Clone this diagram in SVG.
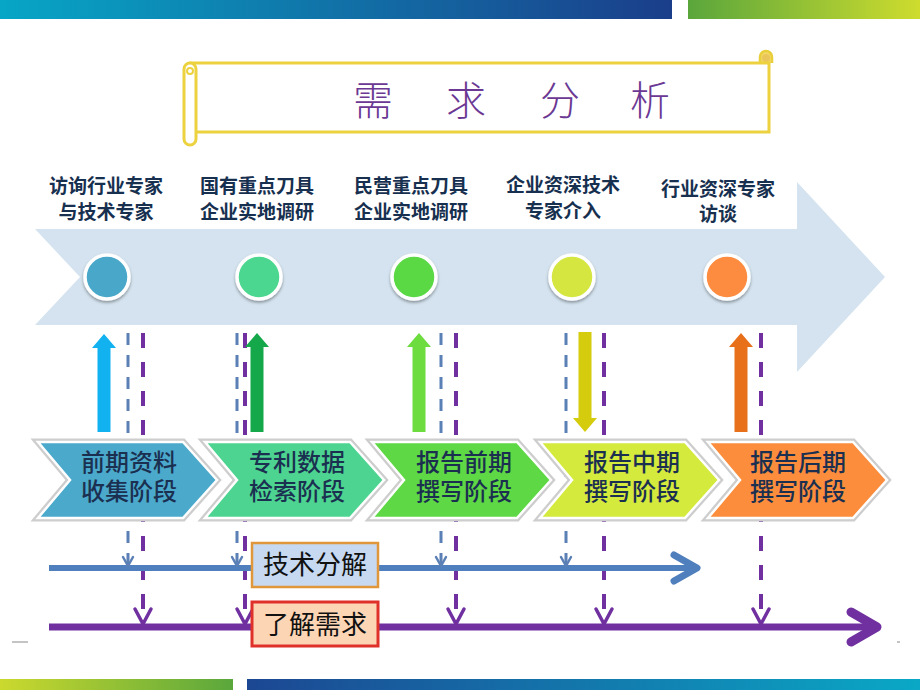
<svg xmlns="http://www.w3.org/2000/svg" width="920" height="690" viewBox="0 0 920 690">
<defs>
<linearGradient id="gBlueTop" x1="0" x2="1" y1="0" y2="0"><stop offset="0" stop-color="#07a6c6"/><stop offset="1" stop-color="#1b3e8a"/></linearGradient>
<linearGradient id="gGreenTop" x1="0" x2="1" y1="0" y2="0"><stop offset="0" stop-color="#5aa63c"/><stop offset="1" stop-color="#cedc2e"/></linearGradient>
<linearGradient id="gGreenBot" x1="0" x2="1" y1="0" y2="0"><stop offset="0" stop-color="#cbd92e"/><stop offset="1" stop-color="#5aa73c"/></linearGradient>
<linearGradient id="gBlueBot" x1="0" x2="1" y1="0" y2="0"><stop offset="0" stop-color="#1c4792"/><stop offset="1" stop-color="#0aa8c6"/></linearGradient>
<filter id="sh" x="-30%" y="-30%" width="160%" height="170%"><feDropShadow dx="0" dy="2" stdDeviation="1.5" flood-color="#000" flood-opacity="0.35"/></filter>
<style>
.lbl{font-family:"Noto Sans CJK SC","Noto Sans CJK TC",sans-serif;font-size:19px;font-weight:bold;fill:#17304f;text-anchor:middle}
.chv{font-family:"Noto Sans CJK SC","Noto Sans CJK TC",sans-serif;font-size:24px;font-weight:500;fill:#1b3050;text-anchor:middle}
.box{font-family:"Noto Sans CJK SC","Noto Sans CJK TC",sans-serif;font-size:26px;fill:#111;text-anchor:middle}
.ring{stroke:#fff;stroke-width:3.5;filter:url(#sh)}
.chevOut{fill:none;stroke:#cdcdcd;stroke-width:7;stroke-linejoin:miter}
.chevIn{stroke:#fff;stroke-width:2.5;stroke-linejoin:miter}
.dB{stroke:#5b80b6;stroke-width:3;stroke-dasharray:12 10;fill:none}
.dP{stroke:#7030a0;stroke-width:4;stroke-dasharray:15 14;fill:none}
.hB{stroke:#4f7fbd;stroke-width:6;fill:none}
.hP{stroke:#7030a0;stroke-width:7;fill:none}
.vB{stroke:#5b80b6;stroke-width:2.5;fill:none;stroke-linecap:round;stroke-linejoin:round}
.vP{stroke:#7030a0;stroke-width:3.5;fill:none;stroke-linecap:round;stroke-linejoin:round}
</style>
</defs>
<rect width="920" height="690" fill="#ffffff"/>
<!-- frame bars -->
<rect x="0" y="0" width="672" height="19" fill="url(#gBlueTop)"/>
<rect x="688" y="0" width="232" height="19" fill="url(#gGreenTop)"/>
<rect x="0" y="679" width="233" height="11" fill="url(#gGreenBot)"/>
<rect x="247" y="679" width="673" height="11" fill="url(#gBlueBot)"/>
<line x1="12" y1="642" x2="28" y2="642" stroke="#b0b0b0" stroke-width="1.5"/>
<line x1="897" y1="642" x2="900" y2="642" stroke="#b0b0b0" stroke-width="1.5"/>

<!-- title scroll -->
<g id="title">
<path d="M760,63 L760,57 A6,6 0 0 1 772,57 L772,63" fill="#f4d86a" stroke="#e8cf3a" stroke-width="2.5"/>
<circle cx="766" cy="58" r="4" fill="#e9c55a"/>
<rect x="191" y="63" width="578" height="69" fill="#ffffff" stroke="#ecd23e" stroke-width="3"/>
<path d="M184,69 A6,6 0 0 1 196,69 L196,139 A6,6 0 0 1 184,139 Z" fill="#ffffff" stroke="#ecd23e" stroke-width="3"/>
<circle cx="190" cy="71" r="3" fill="none" stroke="#ecd23e" stroke-width="2"/>
<text x="373 466 560 650" y="115" style="font-family:'Noto Sans CJK SC','Noto Sans CJK TC',sans-serif;font-size:40px;font-weight:300;fill:#6b3894;text-anchor:middle">需求分析</text>
</g>

<!-- big timeline arrow -->
<g id="timeline">
<polygon points="35,229 797,229 797,182 885,277 797,372 797,325 35,325 80,277" fill="#d4e3ef"/>
</g>

<!-- top labels and circles -->
<g id="event1">
<text class="lbl" x="106" y="193">访询行业专家</text>
<text class="lbl" x="106" y="219">与技术专家</text>
<circle class="ring" cx="107" cy="277" r="22" fill="#4aa8c9"/>
</g>
<g id="event2">
<text class="lbl" x="257" y="193">国有重点刀具</text>
<text class="lbl" x="257" y="219">企业实地调研</text>
<circle class="ring" cx="259" cy="277" r="22" fill="#4bd78f"/>
</g>
<g id="event3">
<text class="lbl" x="411" y="193">民营重点刀具</text>
<text class="lbl" x="411" y="219">企业实地调研</text>
<circle class="ring" cx="414" cy="277" r="22" fill="#5ad945"/>
</g>
<g id="event4">
<text class="lbl" x="563" y="192">企业资深技术</text>
<text class="lbl" x="563" y="218">专家介入</text>
<circle class="ring" cx="572" cy="277" r="22" fill="#d5e641"/>
</g>
<g id="event5">
<text class="lbl" x="718" y="196">行业资深专家</text>
<text class="lbl" x="718" y="221">访谈</text>
<circle class="ring" cx="727" cy="277" r="22" fill="#fd8c40"/>
</g>

<!-- connectors -->
<g id="connectors">
<line class="dB" x1="128" y1="333" x2="128" y2="565"/>
<line class="dB" x1="237" y1="333" x2="237" y2="565"/>
<line class="dB" x1="441" y1="333" x2="441" y2="565"/>
<line class="dB" x1="566" y1="333" x2="566" y2="565"/>
<line class="dP" x1="143" y1="333" x2="143" y2="624"/>
<line class="dP" x1="245" y1="333" x2="245" y2="624"/>
<line class="dP" x1="456" y1="333" x2="456" y2="624"/>
<line class="dP" x1="604" y1="333" x2="604" y2="624"/>
<line class="dP" x1="761" y1="333" x2="761" y2="624"/>
<polygon points="104,334 116,348 110.5,348 110.5,432 97.5,432 97.5,348 92,348" fill="#12b2f0"/>
<polygon points="257,333 269,347 263.5,347 263.5,432 250.5,432 250.5,347 245,347" fill="#14a84a"/>
<polygon points="419,333 431,347 425.5,347 425.5,432 412.5,432 412.5,347 407,347" fill="#6cdc3e"/>
<polygon points="585,432 597,418 591.5,418 591.5,332 578.5,332 578.5,418 573,418" fill="#d4cc0c"/>
<polygon points="741,333 753,347 747.5,347 747.5,432 734.5,432 734.5,347 729,347" fill="#e8701a"/>
</g>

<!-- stage chevrons -->
<g id="stage1">
<polygon class="chevOut" points="38,442 183,442 217,480 183,518 38,518 70,480"/>
<polygon class="chevIn" fill="#4ba9cc" points="38,442 183,442 217,480 183,518 38,518 70,480"/>
<text class="chv" x="129" y="471">前期资料</text>
<text class="chv" x="129" y="500">收集阶段</text>
</g>
<g id="stage2">
<polygon class="chevOut" points="205,442 350,442 384,480 350,518 205,518 237,480"/>
<polygon class="chevIn" fill="#4dd490" points="205,442 350,442 384,480 350,518 205,518 237,480"/>
<text class="chv" x="297" y="471">专利数据</text>
<text class="chv" x="297" y="500">检索阶段</text>
</g>
<g id="stage3">
<polygon class="chevOut" points="372,442 517,442 551,480 517,518 372,518 404,480"/>
<polygon class="chevIn" fill="#5ed844" points="372,442 517,442 551,480 517,518 372,518 404,480"/>
<text class="chv" x="464" y="471">报告前期</text>
<text class="chv" x="464" y="500">撰写阶段</text>
</g>
<g id="stage4">
<polygon class="chevOut" points="540,442 685,442 719,480 685,518 540,518 572,480"/>
<polygon class="chevIn" fill="#d4ea3c" points="540,442 685,442 719,480 685,518 540,518 572,480"/>
<text class="chv" x="632" y="471">报告中期</text>
<text class="chv" x="632" y="500">撰写阶段</text>
</g>
<g id="stage5">
<polygon class="chevOut" points="708,442 853,442 887,480 853,518 708,518 740,480"/>
<polygon class="chevIn" fill="#fb8d3d" points="708,442 853,442 887,480 853,518 708,518 740,480"/>
<text class="chv" x="798" y="471">报告后期</text>
<text class="chv" x="798" y="500">撰写阶段</text>
</g>

<!-- horizontal flows -->
<g id="flows">
<line class="hB" x1="49" y1="568" x2="695" y2="568"/>
<polyline points="674,555 697,568 674,581" fill="none" stroke="#4f7fbd" stroke-width="7" stroke-linecap="round" stroke-linejoin="round"/>
<line class="hP" x1="49" y1="627" x2="874" y2="627"/>
<polyline points="851,612 877,627 851,642" fill="none" stroke="#7030a0" stroke-width="9" stroke-linecap="round" stroke-linejoin="round"/>
<polyline class="vB" points="123,557 128,566 133,557"/>
<polyline class="vB" points="232,557 237,566 242,557"/>
<polyline class="vB" points="436,557 441,566 446,557"/>
<polyline class="vB" points="561,557 566,566 571,557"/>
<polyline class="vP" points="135,609 143,624 151,609"/>
<polyline class="vP" points="237,609 245,624 253,609"/>
<polyline class="vP" points="448,609 456,624 464,609"/>
<polyline class="vP" points="596,609 604,624 612,609"/>
<polyline class="vP" points="753,609 761,624 769,609"/>
</g>

<g id="box-tech">
<rect x="252" y="543" width="126" height="44" fill="#c6d9f1" stroke="#e0963a" stroke-width="2.5"/>
<text class="box" x="315" y="574">技术分解</text>
</g>
<g id="box-need">
<rect x="252" y="602" width="126" height="44" fill="#fcd5b5" stroke="#e0302a" stroke-width="3"/>
<text class="box" x="315" y="634">了解需求</text>
</g>
</svg>
